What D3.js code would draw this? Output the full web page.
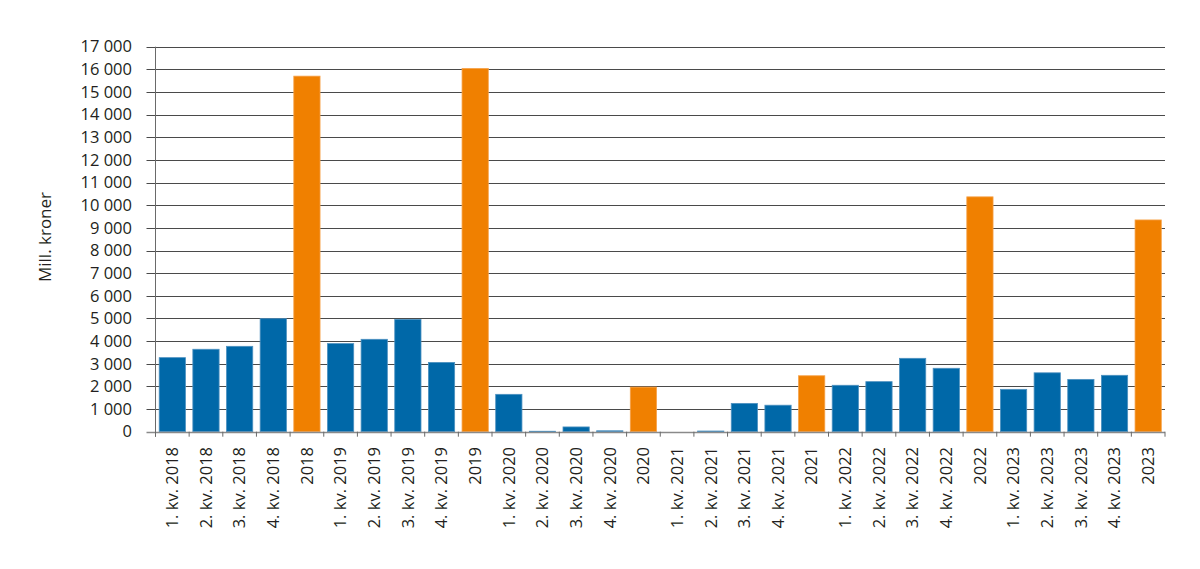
<!DOCTYPE html>
<html>
<head>
<meta charset="utf-8">
<script src="https://cdn.jsdelivr.net/npm/d3@7"></script>
<style>
  body { margin: 0; background: #fff; }
  svg { display: block; }
  text { font-family: "Open Sans", "Noto Sans", sans-serif; fill: #231f20; }
</style>
</head>
<body>
<svg id="chart" width="1200" height="569"></svg>
<script>
const categories = [
  "1. kv. 2018","2. kv. 2018","3. kv. 2018","4. kv. 2018","2018",
  "1. kv. 2019","2. kv. 2019","3. kv. 2019","4. kv. 2019","2019",
  "1. kv. 2020","2. kv. 2020","3. kv. 2020","4. kv. 2020","2020",
  "1. kv. 2021","2. kv. 2021","3. kv. 2021","4. kv. 2021","2021",
  "1. kv. 2022","2. kv. 2022","3. kv. 2022","4. kv. 2022","2022",
  "1. kv. 2023","2. kv. 2023","3. kv. 2023","4. kv. 2023","2023"
];
const values = [
  3270, 3640, 3770, 4990, 15700,
  3890, 4080, 4960, 3060, 16040,
  1650, 20, 210, 40, 1970,
  0, 30, 1250, 1170, 2470,
  2050, 2210, 3240, 2800, 10370,
  1870, 2600, 2310, 2490, 9350
];
const isAnnual = categories.map(c => !c.includes("kv."));
const yTicks = d3.range(0, 17001, 1000);
const yTitle = "Mill. kroner";

const colors = { quarter: "#0068a8", annual: "#f08000" };

const svg = d3.select("#chart");
const m = { left: 155.5, right: 1165, top: 46.7, bottom: 431.7 };

const x = d3.scaleBand().domain(categories).range([m.left, m.right]).paddingInner(0.22).paddingOuter(0.11);
const y = d3.scaleLinear().domain([0, 17000]).range([m.bottom, m.top]);

const fmt = v => d3.format(",")(v).replace(/,/g, "\u2009");

// gridlines
svg.append("g").selectAll("line").data(yTicks.filter(t => t > 0)).join("line")
  .attr("x1", m.left - 9).attr("x2", m.right)
  .attr("y1", d => Math.round(y(d)) + 0.5).attr("y2", d => Math.round(y(d)) + 0.5)
  .attr("stroke", "#4a4a4a").attr("stroke-width", 1);

// y tick labels
svg.append("g").selectAll("text").data(yTicks).join("text")
  .attr("x", 132).attr("y", d => y(d))
  .attr("dy", "0.35em").attr("text-anchor", "end")
  .attr("font-size", 16.5)
  .text(d => d === 0 ? "0" : fmt(d).replace("\u2009", " "));

// bars
svg.append("g").selectAll("rect").data(categories).join("rect")
  .attr("x", d => x(d))
  .attr("width", x.bandwidth())
  .attr("y", (d, i) => y(values[i]))
  .attr("height", (d, i) => y(0) - y(values[i]))
  .attr("fill", (d, i) => isAnnual[i] ? colors.annual : colors.quarter)
  .attr("stroke", (d, i) => isAnnual[i] ? "#f6a24a" : "#4d91c0")
  .attr("stroke-width", 0.8);

// x axis baseline
svg.append("line")
  .attr("x1", m.left - 9).attr("x2", m.right)
  .attr("y1", Math.round(y(0)) + 0.5).attr("y2", Math.round(y(0)) + 0.5)
  .attr("stroke", "#8a8a8a").attr("stroke-width", 1.5);

// y axis line
svg.append("line")
  .attr("x1", m.left).attr("x2", m.left)
  .attr("y1", m.top).attr("y2", y(0) + 5)
  .attr("stroke", "#6a6a6a").attr("stroke-width", 1);

// category ticks at band boundaries
const step = x.step();
const boundaries = d3.range(categories.length + 1).map(i => m.left + i * (m.right - m.left) / categories.length);
svg.append("g").selectAll("line").data(boundaries).join("line")
  .attr("x1", d => d).attr("x2", d => d)
  .attr("y1", y(0)).attr("y2", y(0) + 5)
  .attr("stroke", "#6a6a6a").attr("stroke-width", 1);

// x labels rotated
svg.append("g").selectAll("text").data(categories).join("text")
  .attr("transform", d => `translate(${x(d) + x.bandwidth() / 2},447) rotate(-90)`)
  .attr("text-anchor", "end")
  .attr("dy", "0.35em")
  .attr("font-size", 16.5)
  .text(d => d);

// y title
svg.append("text")
  .attr("transform", `translate(45,237) rotate(-90)`)
  .attr("text-anchor", "middle")
  .attr("dy", "0.35em")
  .attr("font-size", 17)
  .text(yTitle);
</script>
</body>
</html>
